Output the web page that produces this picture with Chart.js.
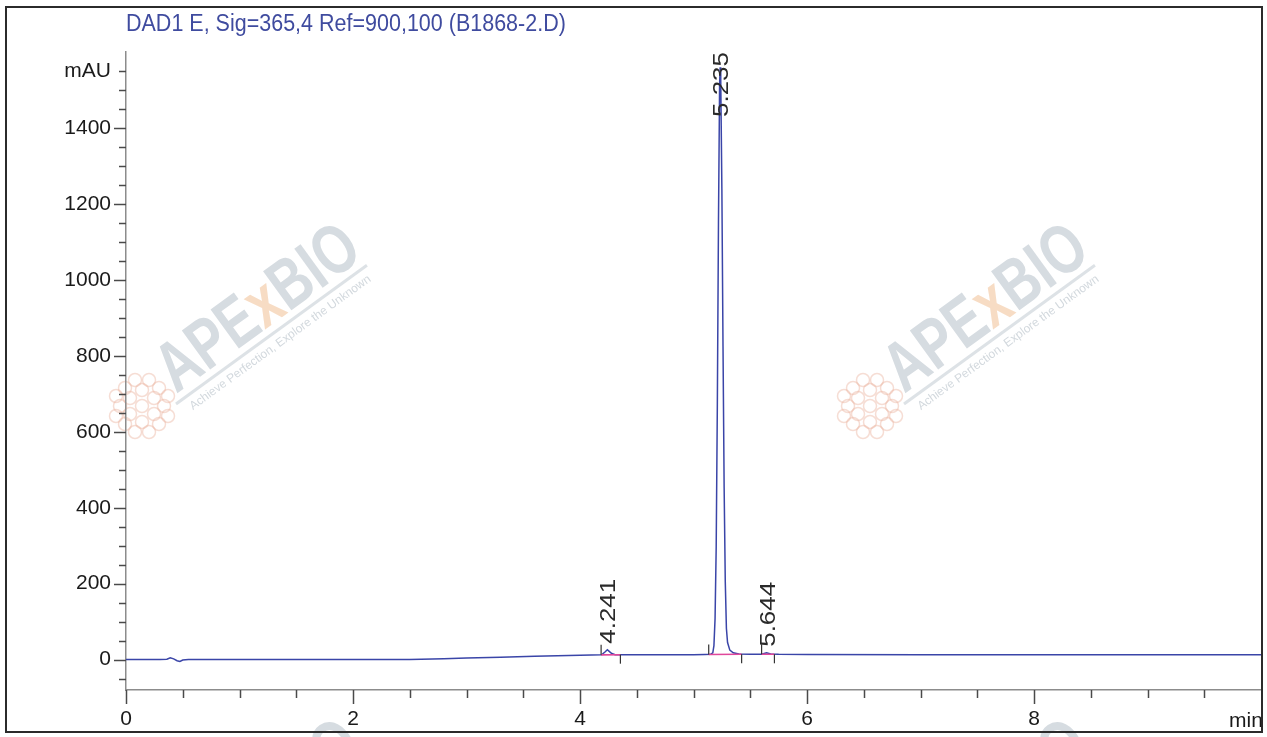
<!DOCTYPE html>
<html>
<head>
<meta charset="utf-8">
<script src="https://cdn.jsdelivr.net/npm/chart.js@4.4.1/dist/chart.umd.min.js"></script>
<style>
html, body { margin: 0; padding: 0; background: #fff; }
#wrap { width: 1267px; height: 737px; }
</style>
</head>
<body>
<div id="wrap"><canvas id="myChart" width="1267" height="737"></canvas></div>
<script>
// retention time (min) and signal (mAU)
const times = [0.00, 0.30, 0.36, 0.39, 0.42, 0.45, 0.475, 0.50, 0.55, 1.00, 1.25, 1.50, 2.00, 2.50,
  2.80, 3.00, 3.30, 3.60, 3.90, 4.10, 4.19, 4.22, 4.241, 4.26, 4.28, 4.31, 4.36, 4.50, 4.80, 5.00,
  5.10, 5.15, 5.17, 5.18, 5.19, 5.20, 5.21, 5.22, 5.23, 5.235, 5.24, 5.25, 5.26, 5.27, 5.28, 5.29,
  5.30, 5.32, 5.35, 5.40, 5.50, 5.60, 5.644, 5.68, 5.75, 6.00, 7.00, 8.00, 9.00, 10.00];
const signal = [0, 0, 1, 5, 2, -3, -5, -1, 0, 0, 0.5, 0, 0, 0.5,
  2, 4, 6.5, 9, 11, 12, 12.5, 20, 26, 21, 16, 13, 13, 13, 13, 13,
  13.5, 14, 18, 37, 108, 297, 668, 1150, 1515, 1560, 1528, 1240, 825, 452, 205, 82,
  45, 25, 18, 15, 14, 14, 18, 15, 14, 13.5, 13, 13, 13, 13];

// integrated peaks
const peakTimes = [4.241, 5.235, 5.644];
const peakHeights = [26, 1560, 18];
const peakStarts = [4.186, 5.134, 5.600];
const peakEnds = [4.356, 5.424, 5.713];
const startLevels = [12.5, 13.5, 14];
const endLevels = [13, 14, 14];

// axes
const yTickLabels = [0, 200, 400, 600, 800, 1000, 1200, 1400];
const xTickLabels = [0, 2, 4, 6, 8];
const yUnitTick = 1550;

const titleText = 'DAD1 E, Sig=365,4 Ref=900,100 (B1868-2.D)';
const fontFamily = '"Liberation Sans", Arial, sans-serif';

// baseline segments under peaks (null breaks the line)
const baseSegs = [];
peakStarts.forEach((s, i) => {
    baseSegs.push({ x: s, y: startLevels[i] });
    baseSegs.push({ x: peakEnds[i], y: endLevels[i] });
    baseSegs.push({ x: peakEnds[i] + 0.001, y: null });
});

function drawWatermark(ctx, ax, ay) {
    ctx.save();
    ctx.translate(ax, ay);
    ctx.rotate(-36 * Math.PI / 180);
    ctx.save();
    ctx.translate(6, -8);
    ctx.scale(0.76, 1);
    ctx.font = 'bold 70px ' + fontFamily;
    ctx.textBaseline = 'alphabetic';
    let x = 0;
    const parts = [['APE', '#d6dce1'], ['x', '#f7dcc4'], ['BIO', '#d6dce1']];
    parts.forEach(p => {
        ctx.fillStyle = p[1];
        ctx.fillText(p[0], x, 0);
        x += ctx.measureText(p[0]).width;
    });
    ctx.restore();
    ctx.strokeStyle = '#dde2e6';
    ctx.lineWidth = 3;
    ctx.beginPath();
    ctx.moveTo(0, 0);
    ctx.lineTo(236, 0);
    ctx.stroke();
    ctx.font = '12px ' + fontFamily;
    ctx.fillStyle = '#d3d9de';
    ctx.fillText('Achieve Perfection, Explore the Unknown', 10, 15);
    ctx.restore();

    // flower blob
    const blob = [[0, 0], [-12, -8], [12, -8], [-12, 8], [12, 8], [0, -16], [0, 16], [-22, 0], [22, 0],
        [-17, -18], [17, -18], [-17, 18], [17, 18], [-7, -26], [7, -26], [-7, 26], [7, 26],
        [-26, -10], [26, -10], [-26, 10], [26, 10]];
    ctx.save();
    ctx.strokeStyle = 'rgba(236,180,160,0.45)';
    ctx.lineWidth = 1.5;
    blob.forEach(b => {
        ctx.beginPath();
        ctx.arc(ax - 34 + b[0], ay + 2 + b[1], 6.5, 0, Math.PI * 2);
        ctx.stroke();
    });
    ctx.restore();
}

const chromPlugin = {
    id: 'chrom',
    beforeDraw(chart) {
        const ctx = chart.ctx;
        ctx.save();
        ctx.fillStyle = '#fff';
        ctx.fillRect(0, 0, chart.width, chart.height);
        ctx.restore();
        drawWatermark(ctx, 176, 404);
        drawWatermark(ctx, 904, 404);
        drawWatermark(ctx, 176, 900);
        drawWatermark(ctx, 904, 900);
    },
    afterDraw(chart) {
        const ctx = chart.ctx;
        const xs = chart.scales.x, ys = chart.scales.y;
        const area = chart.chartArea;
        ctx.save();

        // axis tick marks
        ctx.strokeStyle = '#4a4a4a';
        ctx.lineWidth = 1.5;
        for (let v = -50; v <= 1550; v += 50) {
            const py = Math.round(ys.getPixelForValue(v)) + 0.5;
            const len = yTickLabels.includes(v) ? 12 : 7;
            ctx.beginPath();
            ctx.moveTo(area.left - len, py);
            ctx.lineTo(area.left, py);
            ctx.stroke();
        }
        for (let v = 0; v <= 9.5; v += 0.5) {
            const px = Math.round(xs.getPixelForValue(v)) + 0.5;
            const len = xTickLabels.includes(v) ? 14 : 8;
            ctx.beginPath();
            ctx.moveTo(px, area.bottom);
            ctx.lineTo(px, area.bottom + len);
            ctx.stroke();
        }

        // integration start / end marks
        ctx.strokeStyle = '#333';
        ctx.lineWidth = 1.2;
        peakStarts.forEach((s, i) => {
            const px = xs.getPixelForValue(s);
            const py = ys.getPixelForValue(startLevels[i]);
            ctx.beginPath();
            ctx.moveTo(px, py);
            ctx.lineTo(px, py - 10);
            ctx.stroke();
            const ex = xs.getPixelForValue(peakEnds[i]);
            const ey = ys.getPixelForValue(endLevels[i]);
            ctx.beginPath();
            ctx.moveTo(ex, ey);
            ctx.lineTo(ex, ey + 9);
            ctx.stroke();
        });

        // retention time labels
        ctx.fillStyle = '#2a2a2a';
        ctx.font = '22px ' + fontFamily;
        ctx.textBaseline = 'alphabetic';
        peakTimes.forEach((t, i) => {
            const label = t.toFixed(3);
            const len = ctx.measureText(label).width * 1.18;
            const px = xs.getPixelForValue(t);
            let bottom = ys.getPixelForValue(peakHeights[i]) - 6;
            if (bottom - len < area.top) bottom = area.top + len;
            ctx.save();
            ctx.translate(px, bottom);
            ctx.scale(1, 1.18);
            ctx.rotate(-Math.PI / 2);
            ctx.fillText(label, 0, 8);
            ctx.restore();
        });

        // title
        ctx.save();
        ctx.fillStyle = '#3f4b9f';
        ctx.font = '21.5px ' + fontFamily;
        ctx.translate(area.left, 31);
        ctx.scale(1, 1.15);
        ctx.fillText(titleText, 0, 0);
        ctx.restore();

        // x unit
        ctx.fillStyle = '#1a1a1a';
        ctx.font = '21px ' + fontFamily;
        ctx.textAlign = 'left';
        ctx.fillText('min', 1229, 727);

        // outer frame
        ctx.strokeStyle = '#2b2b2b';
        ctx.lineWidth = 2;
        ctx.strokeRect(6, 7, 1256, 725);
        ctx.restore();
    }
};

const ctx = document.getElementById('myChart').getContext('2d');

let myChart = new Chart(ctx, {
    type: 'line',
    data: {
        datasets: [{
            label: 'baseline',
            data: baseSegs,
            borderColor: '#e0479b',
            borderWidth: 1.6,
            pointRadius: 0,
            spanGaps: false,
            order: 0
        }, {
            label: 'DAD1 E',
            data: times.map((t, i) => ({ x: t, y: signal[i] })),
            borderColor: '#3a45a8',
            borderWidth: 1.5,
            pointRadius: 0,
            tension: 0,
            order: 1
        }]
    },
    options: {
        responsive: false,
        animation: false,
        layout: { padding: { top: 52, right: 6, left: 0, bottom: 0 } },
        plugins: {
            legend: { display: false },
            tooltip: { enabled: false }
        },
        scales: {
            x: {
                type: 'linear',
                min: 0,
                max: 10,
                afterBuildTicks: s => { s.ticks = xTickLabels.map(v => ({ value: v })); },
                afterFit: s => { s.height = 47; },
                ticks: {
                    color: '#1a1a1a',
                    font: { family: fontFamily, size: 21 },
                    padding: 3,
                    maxRotation: 0,
                    autoSkip: false
                },
                grid: { drawOnChartArea: false, drawTicks: true, tickLength: 14, tickColor: 'rgba(0,0,0,0)' },
                border: { display: true, color: '#8c8c8c', width: 1.5 }
            },
            y: {
                type: 'linear',
                min: -80,
                max: 1600,
                afterBuildTicks: s => { s.ticks = yTickLabels.concat([yUnitTick]).map(v => ({ value: v })); },
                afterFit: s => { s.width = 126; },
                ticks: {
                    color: '#1a1a1a',
                    font: { family: fontFamily, size: 21 },
                    padding: 3,
                    callback: v => (v === yUnitTick ? 'mAU' : String(v))
                },
                grid: { drawOnChartArea: false, drawTicks: true, tickLength: 12, tickColor: 'rgba(0,0,0,0)' },
                border: { display: true, color: '#8c8c8c', width: 1.5 }
            }
        }
    },
    plugins: [chromPlugin]
});
</script>
</body>
</html>
